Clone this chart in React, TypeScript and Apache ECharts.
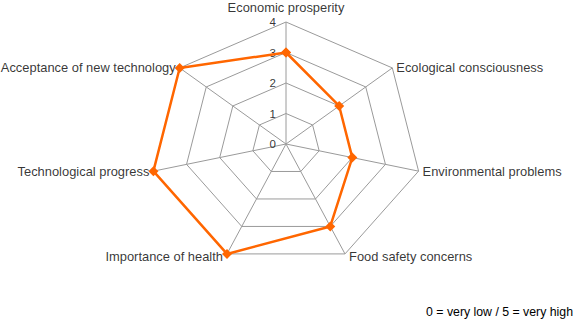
import React, { useEffect, useRef } from "react";
import * as echarts from "echarts";

const categories = [
  "Economic prosperity",
  "Ecological consciousness",
  "Environmental problems",
  "Food safety concerns",
  "Importance of health",
  "Technological progress",
  "Acceptance of new technology",
];
const values = [3, 2, 2, 3, 4, 4, 4];
const ringLevels = [0, 1, 2, 3, 4];
const maxLevel = 4;
const footnote = "0 = very low / 5 = very high";

const labelPositions = ["top", "right", "right", "right", "left", "left", "left"];

function pt(v: number, i: number): [number, number] {
  const a = (i * 2 * Math.PI) / categories.length;
  return [v * Math.sin(a), v * Math.cos(a)];
}

export default function App() {
  const ref = useRef<HTMLDivElement>(null);
  useEffect(() => {
    if (!ref.current) return;
    const chart = echarts.init(ref.current, undefined, { renderer: "svg" });
    const font = "'Liberation Sans', Arial, sans-serif";
    const gridColor = "#9a9a9a";
    const series: any[] = [];
    ringLevels.filter((k) => k > 0).forEach((k) => {
      const d = categories.map((_, i) => pt(k, i));
      d.push(d[0]);
      series.push({
        type: "line",
        data: d,
        symbol: "none",
        silent: true,
        lineStyle: { color: gridColor, width: 1 },
        z: 1,
      });
    });
    categories.forEach((_, i) => {
      series.push({
        type: "line",
        data: [[0, 0], pt(maxLevel, i)],
        symbol: "none",
        silent: true,
        lineStyle: { color: gridColor, width: 1 },
        z: 1,
      });
    });
    // axis names
    series.push({
      type: "scatter",
      symbolSize: 0,
      silent: true,
      data: categories.map((c, i) => ({
        value: pt(maxLevel, i),
        label: {
          show: true,
          formatter: c,
          position: labelPositions[i],
          distance: i === 0 ? 8 : 4,
          offset: i === 3 || i === 4 ? [0, 3] : [0, 0],
          color: "#000",
          fontSize: 12.9,
          fontFamily: font,
        },
      })),
      z: 3,
    });
    // ring numbers
    series.push({
      type: "scatter",
      symbolSize: 0,
      silent: true,
      data: ringLevels.map((k) => ({
        value: [0, k],
        label: {
          show: true,
          formatter: String(k),
          position: "left",
          distance: 10,
          color: "#000",
          fontSize: 11.5,
          fontFamily: font,
        },
      })),
      z: 3,
    });
    const dv = values.map((v, i) => pt(v, i));
    dv.push(dv[0]);
    series.push({
      type: "line",
      data: dv,
      symbol: "diamond",
      symbolSize: 10,
      itemStyle: { color: "#ff6600" },
      lineStyle: { color: "#ff6600", width: 2.5 },
      z: 4,
    });

    chart.setOption({
      animation: false,
      backgroundColor: "#fff",
      grid: { left: 14, width: 544, top: 6.75, height: 289.75 },
      xAxis: { type: "value", min: -8, max: 8, show: false },
      yAxis: { type: "value", min: -5, max: 4.5, show: false },
      series,
      graphic: [
        {
          type: "text",
          right: 6,
          top: 306,
          style: { text: footnote, fill: "#000", fontSize: 12.3, fontFamily: font },
        },
      ],
    });
    return () => chart.dispose();
  }, []);
  return (
    <div
      ref={ref}
      style={{ position: "absolute", left: 0, top: 0, width: 579, height: 323 }}
    />
  );
}
